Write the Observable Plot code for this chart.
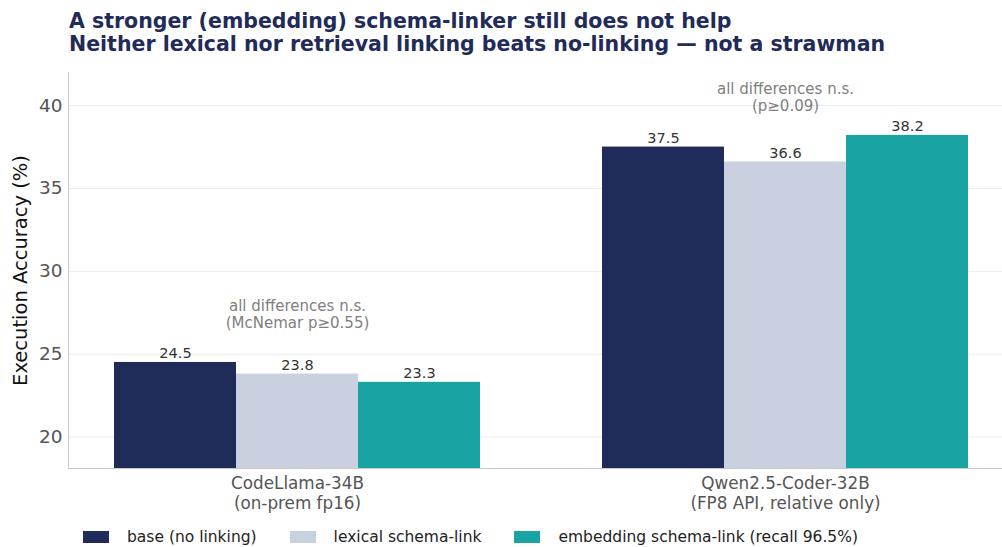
<!DOCTYPE html>
<html>
<head>
<meta charset="utf-8">
<script src="https://cdn.jsdelivr.net/npm/d3@7"></script>
<script src="https://cdn.jsdelivr.net/npm/@observablehq/plot@0.6"></script>
<style>
  body { margin: 0; background: #fff; font-family: "DejaVu Sans", sans-serif; }
  #title { height: 62px; padding-left: 69px; box-sizing: border-box; padding-top: 10px;
    font-weight: bold; font-size: 20.5px; line-height: 23px; color: #1f2b58; }
  #legend { display: flex; align-items: center; height: 30px; padding-left: 83px; font-size: 15.5px; color: #222; }
  .item { display: flex; align-items: center; margin-right: 33px; }
  .sw { width: 26px; height: 12px; margin-right: 18px; }
</style>
</head>
<body>
<div id="title">A stronger (embedding) schema-linker still does not help<br>Neither lexical nor retrieval linking beats no-linking — not a strawman</div>
<div id="chart"></div>
<div id="legend"></div>
<script>
const groups = ["CodeLlama-34B", "Qwen2.5-Coder-32B"];
const groupSub = ["(on-prem fp16)", "(FP8 API, relative only)"];
const series = ["base (no linking)", "lexical schema-link", "embedding schema-link (recall 96.5%)"];
const baseVals = [24.5, 37.5];
const lexicalVals = [23.8, 36.6];
const embeddingVals = [23.3, 38.2];
const notes = ["all differences n.s.\n(McNemar p≥0.55)", "all differences n.s.\n(p≥0.09)"];
const noteY = [26.6, 39.7];
const yTicks = [20, 25, 30, 35, 40];
const colors = ["#1f2b58", "#c9d0df", "#1aa3a3"];
const yLabel = "Execution Accuracy (%)";

const seriesVals = [baseVals, lexicalVals, embeddingVals];
const key = (g, s) => g + "|" + s;
const data = [];
groups.forEach((g, gi) => series.forEach((s, si) => data.push({group: g, series: s, key: key(g, s), value: seriesVals[si][gi]})));
const domain = [];
groups.forEach((g, gi) => { series.forEach(s => domain.push(key(g, s))); if (gi < groups.length - 1) domain.push("gap"); });
const midKeys = groups.map(g => key(g, series[1]));
const noteData = groups.map((g, i) => ({key: midKeys[i], y: noteY[i], text: notes[i]}));
const labelMap = new Map(groups.map((g, i) => [midKeys[i], g + "\n" + groupSub[i]]));

const chart = Plot.plot({
  width: 1002,
  height: 460,
  marginLeft: 68,
  marginRight: 0,
  marginTop: 10,
  marginBottom: 54,
  style: {fontFamily: "DejaVu Sans, sans-serif", background: "#fff"},
  x: {type: "band", domain, range: [112, 970], padding: 0},
  y: {domain: [18.1, 42]},
  color: {domain: series, range: colors},
  marks: [
    Plot.ruleY(yTicks, {stroke: "#ebebeb", strokeWidth: 1}),
    Plot.barY(data, {x: "key", y: "value", fill: "series", clip: true}),
    Plot.text(data, {x: "key", y: "value", text: d => d.value.toFixed(1), dy: -4, lineAnchor: "bottom", fontSize: 14.5, fill: "#333"}),
    Plot.text(noteData, {x: "key", y: "y", text: "text", lineAnchor: "bottom", fontSize: 15, fill: "#808080", lineHeight: 1.1}),
    Plot.ruleY([18.1], {stroke: "#c8c8c8"}),
    Plot.frame({anchor: "left", stroke: "#c8c8c8"}),
    Plot.axisY({ticks: yTicks, tickSize: 0, tickPadding: 6, fontSize: 18.5, color: "#555", label: null}),
    Plot.axisX({ticks: midKeys, tickSize: 0, tickPadding: 7, fontSize: 16.8, color: "#555", label: null, tickFormat: k => labelMap.get(k) || "", lineHeight: 1.15}),
    Plot.text([yLabel], {frameAnchor: "left", textAnchor: "middle", rotate: -90, dx: -48, fontSize: 19.5, fill: "#111"})
  ]
});
document.getElementById("chart").appendChild(chart);

const legend = document.getElementById("legend");
series.forEach((s, i) => {
  const it = document.createElement("div");
  it.className = "item";
  it.innerHTML = `<div class="sw" style="background:${colors[i]}"></div><span>${s}</span>`;
  legend.appendChild(it);
});
</script>
</body>
</html>
